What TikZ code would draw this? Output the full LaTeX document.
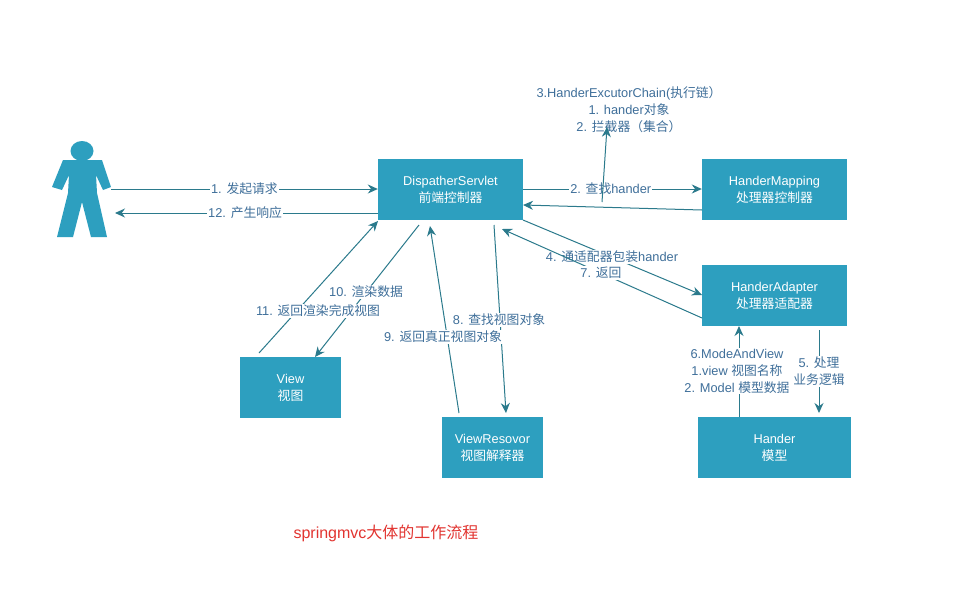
\documentclass[tikz,border=0pt]{standalone}
\usepackage{fontspec}
\setmainfont{Liberation Sans}
\newfontfamily\cjk{Noto Sans CJK SC}
\newcommand\zh[1]{{\cjk #1}}
\usetikzlibrary{arrows.meta}
\definecolor{boxfill}{HTML}{2D9FBF}
\definecolor{linecol}{HTML}{2B7A8C}
\definecolor{labelcol}{HTML}{3F6F9A}
\tikzset{
  box/.style={draw=none,fill=boxfill,text=white,align=center,font=\fontsize{12.8}{17}\selectfont,inner sep=0pt},
  conn/.style={draw=linecol,line width=1pt,-{Stealth[length=10pt,width=9pt]}},
  lab/.style={fill=white,text=labelcol,align=center,font=\fontsize{12.8}{17}\selectfont,inner sep=1pt},
  nofill/.style={text=labelcol,align=center,font=\fontsize{12.8}{17}\selectfont,inner sep=1pt},
}
\begin{document}
\begin{tikzpicture}[x=1pt,y=-1pt]
\useasboundingbox[fill=white] (0,0) rectangle (961,600);
% boxes
\node[box,minimum width=145pt,minimum height=61pt] (ds) at (450.5,189.5) {DispatherServlet\\\zh{前端控制器}};
\node[box,minimum width=145pt,minimum height=61pt] (hm) at (774.5,189.5) {HanderMapping\\\zh{处理器控制器}};
\node[box,minimum width=145pt,minimum height=61pt] (ha) at (774.5,295.5) {HanderAdapter\\\zh{处理器适配器}};
\node[box,minimum width=153pt,minimum height=61pt] (h) at (774.5,447.5) {Hander\\\zh{模型}};
\node[box,minimum width=101pt,minimum height=61pt] (vr) at (492.5,447.5) {ViewResovor\\\zh{视图解释器}};
\node[box,minimum width=101pt,minimum height=61pt] (v) at (290.5,387.5) {View\\\zh{视图}};
% person
\fill[boxfill] (82,151) ellipse (11.5pt and 10pt);
\fill[boxfill] (63,160) -- (102,160) -- (111,187) -- (103,190) -- (96,175) -- (97,193) -- (107,237) -- (91,237) -- (82,202) -- (73,237) -- (57,237) -- (68,193) -- (69,175) -- (62,190) -- (52,187) -- cycle;
\coordinate (person) at (111,189);
\coordinate (personb) at (115,213);
\coordinate (chain) at (607,127);
\coordinate (chains) at (602,202);
% connectors
\draw[conn] (person) -- node[lab,pos=0.5] (l1) {1. \zh{发起请求}} (ds.west |- person);
\draw[conn] (ds.west |- personb) -- node[lab,pos=0.505] (l12) {12. \zh{产生响应}} (personb);
\draw[conn] (ds.east |- person) -- node[lab,pos=0.49] (l2) {2. \zh{查找}hander} (hm.west |- person);
\coordinate (a4) at (523,220);\coordinate (b4) at (702,295);
\coordinate (a7) at (702,318);\coordinate (b7) at (502,229);
\coordinate (hmb) at (702,210);\coordinate (dsb) at (523,205);
\draw[conn] (hmb) -- (dsb);
\draw[conn] (a4) -- (b4);
\node[lab] (l4) at (612,257) {4. \zh{通适配器包装}hander};
\draw[conn] (a7) -- (b7);
\node[lab] (l7) at (601,273) {7. \zh{返回}};
\coordinate (a5) at (819,330);\coordinate (b5) at (819,413);
\draw[conn] (a5) -- node[lab,pos=0.5] (l5) {5. \zh{处理}\\\zh{业务逻辑}} (b5);
\coordinate (a6) at (739,417);\coordinate (b6) at (739,326);
\draw[conn] (a6) -- (b6);
\node[lab] (l6) at (737,371) {6.ModeAndView\\1.view \zh{视图名称}\\2. Model \zh{模型数据}};
\coordinate (a8) at (494,225);\coordinate (b8) at (506,413);
\draw[conn] (a8) -- (b8);
\node[lab] (l8) at (499,320) {8. \zh{查找视图对象}};
\coordinate (a9) at (459,413);\coordinate (b9) at (430,226);
\draw[conn] (a9) -- (b9);
\node[lab] (l9) at (443,337) {9. \zh{返回真正视图对象}};
\coordinate (a10) at (419,225);\coordinate (b10) at (315,357);
\draw[conn] (a10) -- (b10);
\node[lab] (l10) at (366,292) {10. \zh{渲染数据}};
\coordinate (a11) at (259,353);\coordinate (b11) at (378,221);
\draw[conn] (a11) -- (b11);
\node[lab] (l11) at (318,311) {11. \zh{返回渲染完成视图}};
% chain label
\node[nofill] (l3) at (629,110) {3.HanderExcutorChain(\zh{执行链）}\\1. hander\zh{对象}\\2. \zh{拦截器（集合）}};
\draw[conn] (chains) -- (chain);
% caption
\node[text={rgb,255:red,226;green,52;blue,48},font=\fontsize{16}{20}\selectfont,inner sep=0pt] (cap) at (386,533) {springmvc\zh{大体的工作流程}};
\end{tikzpicture}
\end{document}
